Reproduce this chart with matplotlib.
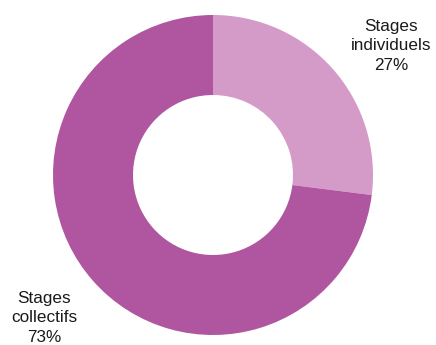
import matplotlib
matplotlib.use("Agg")
import matplotlib.pyplot as plt

labels = ["Stages\nindividuels", "Stages\ncollectifs"]
values = [27, 73]
colors = ["#D49AC8", "#B055A0"]

W, H = 436, 345
fig = plt.figure(figsize=(W / 100, H / 100), dpi=100)
plt.rcParams["font.family"] = ["Liberation Sans", "DejaVu Sans"]

cx, cy, r = 213, 175, 160
ax = fig.add_axes([(cx - r) / W, (H - cy - r) / H, 2 * r / W, 2 * r / H])
ax.pie(values, colors=colors, startangle=90, counterclock=False,
       wedgeprops=dict(width=0.5, linewidth=0), radius=1.0)
ax.set_xlim(-1, 1)
ax.set_ylim(-1, 1)
ax.set_aspect("equal")
ax.axis("off")

label_pos = [(391, 46), (44, 318)]
for (x, y), lab, v in zip(label_pos, labels, values):
    fig.text(x / W, 1 - y / H, f"{lab}\n{v}%", ha="center", va="center",
             fontsize=12.3, color="#1a1a1a", linespacing=1.35)

fig.savefig("out.png", dpi=100)
